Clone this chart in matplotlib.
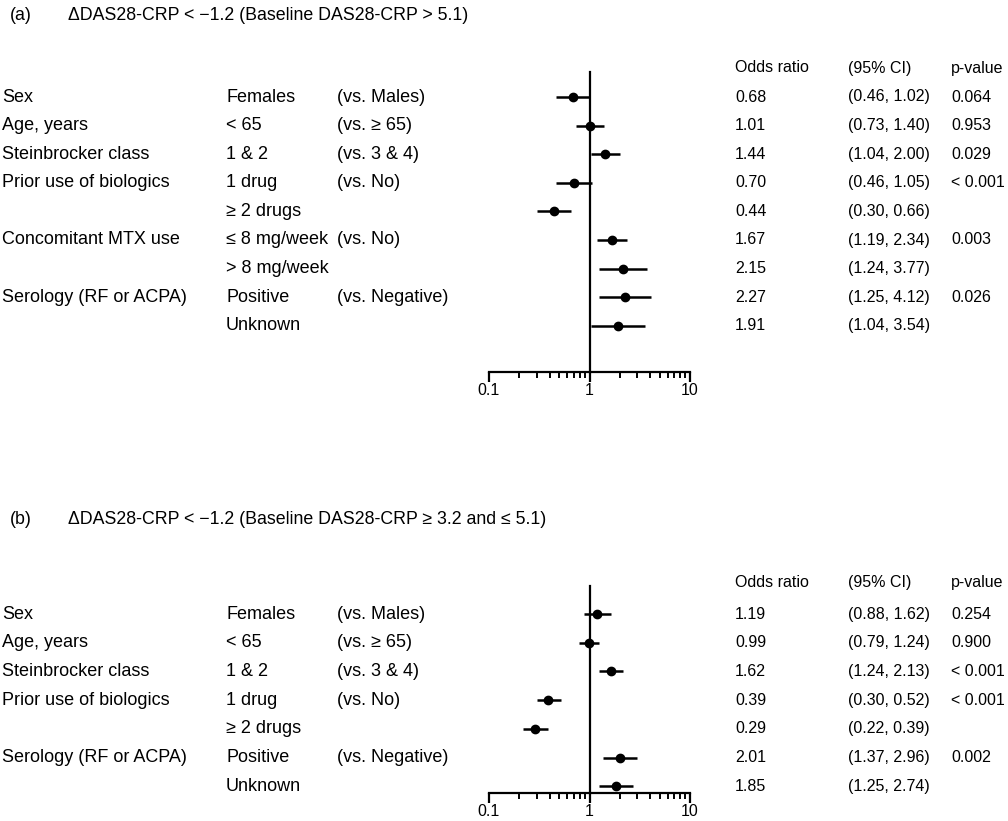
import numpy as np
import matplotlib.pyplot as plt
from matplotlib.ticker import LogLocator, FixedLocator, NullFormatter
import matplotlib.transforms as mtransforms

plt.rcParams['font.family'] = ['Liberation Sans', 'DejaVu Sans']
plt.rcParams['font.size'] = 11.5

W, H = 1008, 821
FS_LEFT = 13
FS_TITLE = 12.8
FS_RIGHT = 11.5

# panel (a) data
a_cat = ["Sex", "Age, years", "Steinbrocker class", "Prior use of biologics", "",
         "Concomitant MTX use", "", "Serology (RF or ACPA)", ""]
a_sub = ["Females", "< 65", "1 & 2", "1 drug", "\u2265 2 drugs",
         "\u2264 8 mg/week", "> 8 mg/week", "Positive", "Unknown"]
a_ref = ["(vs. Males)", "(vs. \u2265 65)", "(vs. 3 & 4)", "(vs. No)", "",
         "(vs. No)", "", "(vs. Negative)", ""]
a_or = [0.68, 1.01, 1.44, 0.70, 0.44, 1.67, 2.15, 2.27, 1.91]
a_lo = [0.46, 0.73, 1.04, 0.46, 0.30, 1.19, 1.24, 1.25, 1.04]
a_hi = [1.02, 1.40, 2.00, 1.05, 0.66, 2.34, 3.77, 4.12, 3.54]
a_p = ["0.064", "0.953", "0.029", "< 0.001", "", "0.003", "", "0.026", ""]

# panel (b) data
b_cat = ["Sex", "Age, years", "Steinbrocker class", "Prior use of biologics", "",
         "Serology (RF or ACPA)", ""]
b_sub = ["Females", "< 65", "1 & 2", "1 drug", "\u2265 2 drugs", "Positive", "Unknown"]
b_ref = ["(vs. Males)", "(vs. \u2265 65)", "(vs. 3 & 4)", "(vs. No)", "",
         "(vs. Negative)", ""]
b_or = [1.19, 0.99, 1.62, 0.39, 0.29, 2.01, 1.85]
b_lo = [0.88, 0.79, 1.24, 0.30, 0.22, 1.37, 1.25]
b_hi = [1.62, 1.24, 2.13, 0.52, 0.39, 2.96, 2.74]
b_p = ["0.254", "0.900", "< 0.001", "< 0.001", "", "0.002", ""]

fig = plt.figure(figsize=(W / 100, H / 100), dpi=100)


def fx(x):
    return x / W


def fy(y):
    return 1 - y / H


def panel(tag, title, y_title, y_row0, step, y_top, y_base,
          cat, sub, ref, ors, lo, hi, pv):
    fig.text(fx(10), fy(y_title), tag, va='center', ha='left', fontsize=FS_TITLE)
    fig.text(fx(68), fy(y_title), title, va='center', ha='left', fontsize=FS_TITLE)

    x0, x1 = 489, 690
    ax = fig.add_axes([fx(x0), fy(y_base), fx(x1 - x0), (y_base - y_top) / H])
    ax.set_xscale('log')
    ax.set_xlim(0.1, 10)
    n_top = (y_top - y_row0) / step
    n_bot = (y_base - y_row0) / step
    ax.set_ylim(n_bot, n_top)
    for s in ['top', 'right']:
        ax.spines[s].set_visible(False)
    ax.spines['left'].set_position(('data', 1))
    ax.spines['left'].set_linewidth(1.6)
    ax.spines['bottom'].set_linewidth(1.6)
    ax.set_yticks([])
    ax.xaxis.set_major_locator(FixedLocator([0.1, 1, 10]))
    ax.set_xticklabels(["0.1", "1", "10"])
    ax.xaxis.set_minor_locator(LogLocator(base=10, subs=np.arange(2, 10)))
    ax.xaxis.set_minor_formatter(NullFormatter())
    ax.tick_params(axis='x', which='major', length=7, width=1.6, pad=1)
    ax.tick_params(axis='x', which='minor', length=4, width=1.4)
    ax.patch.set_alpha(0)

    rows = np.arange(len(ors))
    ors = np.array(ors)
    err = [ors - np.array(lo), np.array(hi) - ors]
    ax.errorbar(ors, rows, xerr=err, fmt='o', color='black', ms=6,
                elinewidth=1.8, capsize=0, clip_on=False)

    tr = mtransforms.blended_transform_factory(fig.transFigure, ax.transData)
    hdr = -(y_row0 - (y_top - 4)) / step
    for x, t in [(735, "Odds ratio"), (848, "(95% CI)"), (951, "p-value")]:
        ax.text(fx(x), hdr, t, transform=tr, va='center', ha='left',
                fontsize=FS_RIGHT, clip_on=False)
    for i in rows:
        ax.text(fx(2), i, cat[i], transform=tr, va='center', ha='left', fontsize=FS_LEFT)
        ax.text(fx(226), i, sub[i], transform=tr, va='center', ha='left', fontsize=FS_LEFT)
        ax.text(fx(337), i, ref[i], transform=tr, va='center', ha='left', fontsize=FS_LEFT)
        ax.text(fx(735), i, f"{ors[i]:.2f}", transform=tr, va='center', ha='left',
                fontsize=FS_RIGHT)
        ax.text(fx(848), i, f"({lo[i]:.2f}, {hi[i]:.2f})", transform=tr, va='center',
                ha='left', fontsize=FS_RIGHT)
        ax.text(fx(951), i, pv[i], transform=tr, va='center', ha='left', fontsize=FS_RIGHT)


panel("(a)", "\u0394DAS28-CRP < \u22121.2 (Baseline DAS28-CRP > 5.1)",
      15, 97, 28.6, 72, 372, a_cat, a_sub, a_ref, a_or, a_lo, a_hi, a_p)
panel("(b)", "\u0394DAS28-CRP < \u22121.2 (Baseline DAS28-CRP \u2265 3.2 and \u2264 5.1)",
      520, 614, 28.7, 586, 793, b_cat, b_sub, b_ref, b_or, b_lo, b_hi, b_p)

fig.savefig("out.png", dpi=100)
